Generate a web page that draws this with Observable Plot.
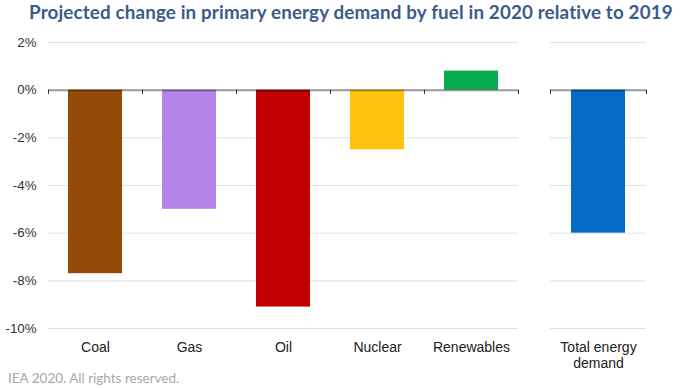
<!DOCTYPE html>
<html>
<head>
<meta charset="utf-8">
<script src="https://cdn.jsdelivr.net/npm/d3@7"></script>
<script src="https://cdn.jsdelivr.net/npm/@observablehq/plot@0.6"></script>
<style>
  html, body { margin: 0; padding: 0; background: #fff; width: 700px; height: 388px; overflow: hidden; position: relative; }
  #title { position: absolute; left: 29px; top: 0px; font-family: Lato, "Noto Sans", sans-serif; font-weight: 700; font-size: 18.8px; letter-spacing: 0.15px; color: #3b5b8c; white-space: nowrap; line-height: 23px; }
  #left { position: absolute; left: 0; top: 26px; width: 530px; }
  #right { position: absolute; left: 530px; top: 26px; width: 170px; }
  #caption { position: absolute; left: 8px; top: 370px; font-family: Lato, sans-serif; font-size: 13.5px; color: #a8a8a8; line-height: 16px; white-space: nowrap; }
</style>
</head>
<body>
<div id="title">Projected change in primary energy demand by fuel in 2020 relative to 2019</div>
<div id="left"></div>
<div id="right"></div>
<div id="caption">IEA 2020. All rights reserved.</div>
<script>
const fuels = ["Coal", "Gas", "Oil", "Nuclear", "Renewables"];
const fuelValues = [-7.7, -5.0, -9.1, -2.5, 0.8];
const fuelColors = ["#954a09", "#b584ea", "#c00000", "#ffc20e", "#05ab50"];
const totalLabel = ["Total energy\ndemand"];
const totalValues = [-6.0];
const totalColors = ["#066bc4"];
const yTicks = [2, 0, -2, -4, -6, -8, -10];

const H = 345, MT = 16, MB = 43;
const fmt = d => `${d}%`;

function panel({cats, vals, colors, width, marginLeft, marginRight, inset, showY}) {
  const data = cats.map((c, i) => ({cat: c, value: vals[i]}));
  const step = (width - marginLeft - marginRight) / cats.length;
  const marks = [
    Plot.ruleY(yTicks.filter(d => d !== 0), {stroke: "#e2e2e2", strokeWidth: 1}),
    Plot.barY(data, {x: "cat", y: "value", fill: "cat", insetLeft: inset, insetRight: inset}),
    Plot.ruleY([0], {stroke: "black", strokeOpacity: 0.4, strokeWidth: 2}),
    Plot.ruleX(cats, {x: d => d, dx: -step / 2, y1: 0, y2: -0.18, stroke: "#333", strokeWidth: 1}),
    Plot.ruleX([cats[cats.length - 1]], {x: d => d, dx: step / 2, y1: 0, y2: -0.18, stroke: "#333", strokeWidth: 1}),
    Plot.axisX({tickSize: 0, tickPadding: 13, fontSize: 14, fill: "#222", label: null, lineHeight: 1.1})
  ];
  if (showY) marks.push(Plot.axisY(yTicks, {tickSize: 0, tickPadding: 12, fontSize: 13.3, fill: "#333", tickFormat: fmt, label: null}));
  return Plot.plot({
    width, height: H,
    marginTop: MT, marginBottom: MB, marginLeft, marginRight,
    style: {background: "transparent", overflow: "visible", fontFamily: "'Liberation Sans', Arial, sans-serif", width: `${width}px`, maxWidth: "none", height: `${H}px`},
    x: {domain: cats, padding: 0, label: null, axis: null},
    y: {domain: [-10, 2], label: null, axis: null},
    color: {domain: cats, range: colors},
    marks
  });
}

document.getElementById("left").appendChild(panel({cats: fuels, vals: fuelValues, colors: fuelColors, width: 530, marginLeft: 48, marginRight: 12, inset: 20, showY: true}));
document.getElementById("right").appendChild(panel({cats: totalLabel, vals: totalValues, colors: totalColors, width: 170, marginLeft: 20, marginRight: 54, inset: 21, showY: false}));
</script>
</body>
</html>
